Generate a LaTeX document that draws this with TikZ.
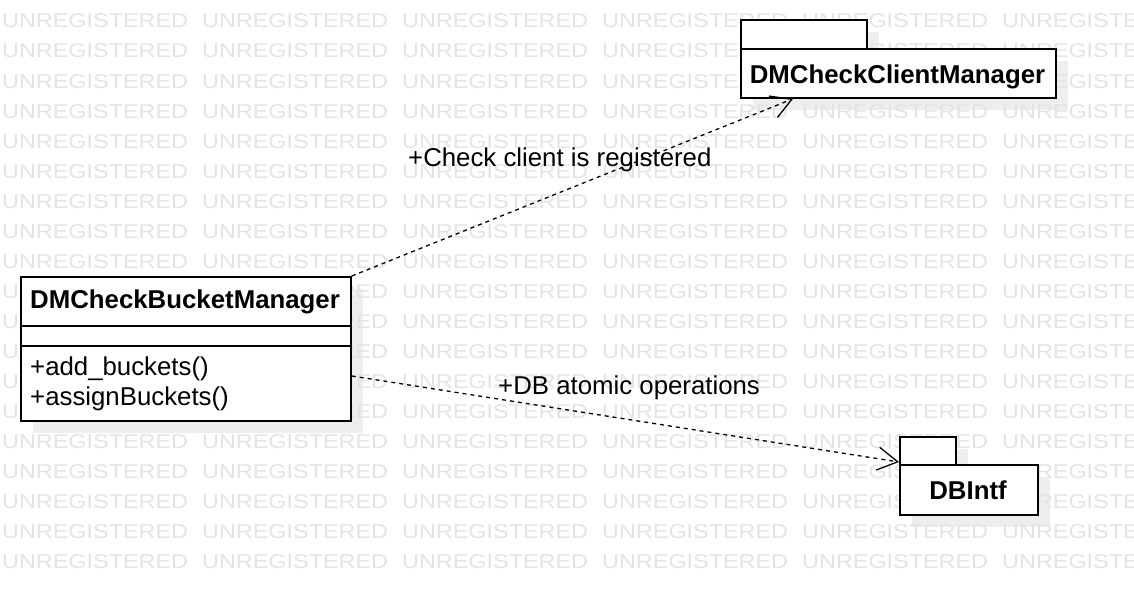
\documentclass[tikz,border=0pt]{standalone}
\usepackage{fontspec}
\setmainfont{Liberation Sans}
\usetikzlibrary{arrows.meta,calc}
\definecolor{wm}{RGB}{228,228,228}
\definecolor{shadowc}{RGB}{238,238,238}
\begin{document}
\begin{tikzpicture}[x=1pt,y=-1pt,
  box/.style={draw=black,fill=white,line width=1.8pt,inner sep=0pt,anchor=north west},
  shadowbox/.style={fill=shadowc,draw=none,inner sep=0pt,anchor=north west},
  txt/.style={inner sep=0pt,anchor=base west,font=\fontsize{25.8}{30}\selectfont},
  btxt/.style={inner sep=0pt,anchor=base,font=\fontsize{25.8}{30}\selectfont\bfseries},
  sep/.style={line width=1.8pt},
  dep/.style={line width=1.3pt,dash pattern=on 4pt off 4pt,-{Straight Barb[length=20pt,width=23pt,line width=1.3pt]}},
  wmtxt/.style={inner sep=0pt,anchor=base west,text=wm,font=\fontsize{20}{24}\selectfont}
]
\useasboundingbox (0,0) rectangle (1134,594);
\fill[white] (0,0) rectangle (1134,594);
% shadows
\node[shadowbox,minimum width=330pt,minimum height=144pt] (bucketsh) at (33,289) {};
\node[shadowbox,minimum width=126pt,minimum height=29pt] (clienttabsh) at (753,32) {};
\node[shadowbox,minimum width=315pt,minimum height=49pt] (clientsh) at (753,61) {};
\node[shadowbox,minimum width=56pt,minimum height=28pt] (dbtabsh) at (912,449) {};
\node[shadowbox,minimum width=138pt,minimum height=50pt] (dbsh) at (912,477) {};
% watermark
\begin{scope}
\clip (0,0) rectangle (1134,594);
\foreach \r in {-1,...,18}{
  \foreach \c in {0,...,5}{
    \node[wmtxt] (wm-\r-\c) at ({2+200*\c},{28+30*\r}) {\scalebox{1.17}[1]{UNREGISTERED}};
  }
}
\end{scope}
% class box
\node[box,minimum width=330pt,minimum height=144pt] (bucket) at (20,276) {};
\draw[sep] ($(bucket.north west)+(0,50)$) -- ($(bucket.north east)+(0,50)$);
\draw[sep] ($(bucket.north west)+(0,70)$) -- ($(bucket.north east)+(0,70)$);
\node[btxt,anchor=base west] (buckettitle) at (30,308) {DMCheckBucketManager};
\node[txt] (op1) at (30,375) {+add\_buckets()};
\node[txt] (op2) at (30,405) {+assignBuckets()};
% client package
\node[box,minimum width=126pt,minimum height=29pt] (clienttab) at (740,19) {};
\node[box,minimum width=315pt,minimum height=49pt] (client) at (740,48) {};
\node[btxt] (clienttitle) at (897.5,83) {DMCheckClientManager};
% db package
\node[box,minimum width=56pt,minimum height=28pt] (dbtab) at (899,436) {};
\node[box,minimum width=138pt,minimum height=50pt] (db) at (899,464) {};
\node[btxt] (dbtitle) at (968,499) {DBIntf};
% dependencies
\draw[dep] (bucket.north east) -- ([xshift=53pt]client.south west);
\draw[dep] ([yshift=-100pt]bucket.north east) -- ([yshift=2pt]db.north west);
\node[txt] (lab1) at (408,166) {+Check client is registered};
\node[txt] (lab2) at (498,394) {+DB atomic operations};
\end{tikzpicture}
\end{document}
